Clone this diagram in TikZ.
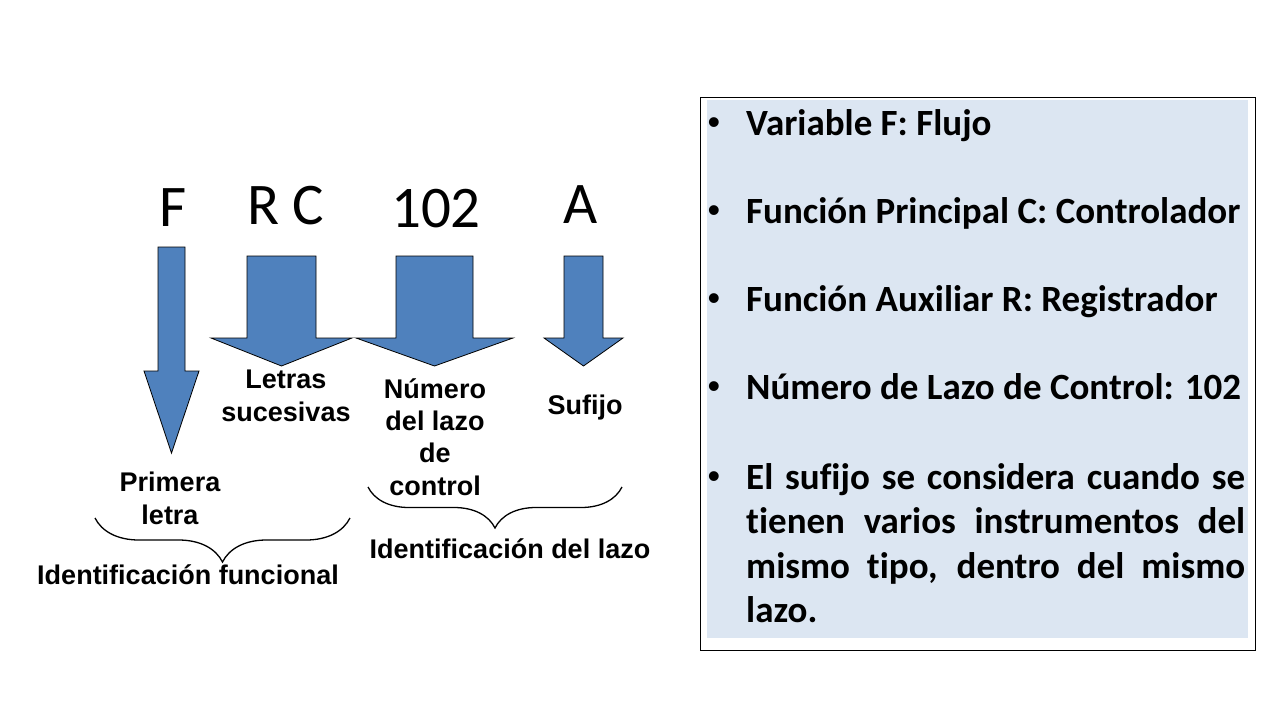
\documentclass[tikz,border=0pt]{standalone}
\usepackage{fontspec}
\usepackage{tikz}
\usetikzlibrary{decorations.pathreplacing}
\setmainfont{Carlito}[Ligatures=NoCommon]
\newfontfamily\arialfont{Liberation Sans}
\usepackage{xcolor}

\definecolor{arrowblue}{RGB}{79,129,189}
\definecolor{boxblue}{RGB}{220,230,242}

\tikzset{
  tagletter/.style={font=\fontsize{59}{59}\selectfont, inner sep=0pt, anchor=base},
  tagtext/.style={font=\arialfont\bfseries\fontsize{27}{32.3}\selectfont, align=center, inner sep=0pt, anchor=base},
  blockarrow/.style={fill=arrowblue, draw=black, line width=0.8pt, line join=miter},
  curly/.style={decorate, decoration={brace, mirror, amplitude=#1}, line width=1.3pt},
  point/.style={font=\bfseries\fontsize{37}{44.5}\selectfont, inner sep=0pt, anchor=base west},
  dot/.style={font=\arialfont\fontsize{36}{36}\selectfont, inner sep=0pt, anchor=base}
}

% centre x, half shaft, top, head base, half head, tip
\newcommand{\blockdown}[6]{%
  \filldraw[blockarrow] (#1-#2,#3) -- (#1+#2,#3) -- (#1+#2,#4) -- (#1+#5,#4)
    -- (#1,#6) -- (#1-#5,#4) -- (#1-#2,#4) -- cycle;}

\begin{document}
\begin{tikzpicture}[x=1pt, y=-1pt]
    \useasboundingbox (0,0) rectangle (1280,720);

    % tag letters
    \node[tagletter] (varF) at (173,226) {F};
    \node[tagletter] (funRC) at (286,224) {R C};
    \node[tagletter] (loopnum) at (436,227) {102};
    \node[tagletter] (suffix) at (581,223) {A};

    % arrows
    \blockdown{171.5}{13.5}{247}{371}{27.5}{453}
    \blockdown{281.5}{34.5}{256}{338}{70.5}{366}
    \blockdown{434.5}{38.5}{256}{338}{78.5}{366}
    \blockdown{583.5}{19.5}{256}{338}{39.5}{366}

    % labels (base = last line)
    \node[tagtext] (letras) at (286,421) {Letras\\sucesivas};
    \node[tagtext] (numero) at (435,495) {Número\\del lazo\\de\\control};
    \node[tagtext] (sufijo) at (585,414) {Sufijo};
    \node[tagtext] (primera) at (170,524) {Primera\\letra};

    % braces
    \coordinate (funL) at (95,518);
    \coordinate (funR) at (350,518);
    \coordinate (lazoL) at (368,487);
    \coordinate (lazoR) at (622,487);
    \draw[curly=44pt] (funL) -- (funR);
    \draw[curly=41pt] (lazoL) -- (lazoR);
    \node[tagtext] (idfun) at (188,584) {Identificación funcional};
    \node[tagtext] (idlazo) at (510,558) {Identificación del lazo};

    % notes box
    \draw[line width=0.8pt] (700,97) rectangle (1255,650);
    \fill[boxblue] (707,100) rectangle (1248,638);

    \node[dot] (b1) at (714,134) {•};
    \node[point] (n1) at (746,135) {Variable F: Flujo};
    \node[dot] (b2) at (714,222) {•};
    \node[point] (n2) at (746,223) {Función Principal C: Controlador};
    \node[dot] (b3) at (714,310) {•};
    \node[point] (n3) at (746,311) {Función Auxiliar R: Registrador};
    \node[dot] (b4) at (714,398) {•};
    \node[point] (n4) at (746,399) {Número de Lazo de Control: 102};
    \node[dot] (b5) at (714,488) {•};
    \node[point, text width=499pt, align=justify] (n5) at (746,489)
      {El sufijo se considera cuando se\linebreak tienen varios instrumentos del\linebreak mismo tipo, dentro del mismo\linebreak lazo.};
\end{tikzpicture}
\end{document}
